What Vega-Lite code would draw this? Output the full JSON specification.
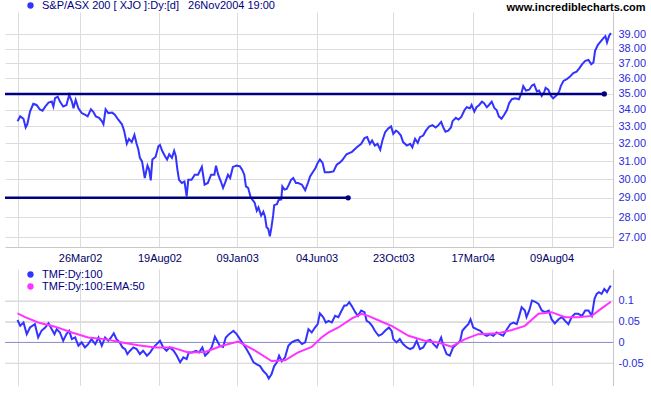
{
"$schema":"https://vega.github.io/schema/vega-lite/v6.json",
"padding":0,
"background":"white",
"spacing":6,
"config":{
 "font":"Liberation Sans",
 "view":{"stroke":null},
 "axis":{"labelFont":"Liberation Sans","labelFontSize":11,"gridColor":"#dcdcdc","gridWidth":1,"domainColor":"#c8c8c8","ticks":false,"title":null,"labelOverlap":false},
 "legend":{"labelFont":"Liberation Sans","labelFontSize":11,"labelColor":"#000080","padding":0,"symbolType":"circle","symbolSize":40,"symbolStrokeWidth":0,"labelOffset":6,"title":null,"labelLimit":0,"rowPadding":0}
},
"resolve":{"scale":{"color":"independent","x":"independent","y":"independent"},"legend":{"color":"independent"}},
"datasets":{
"price":[
{"date":"2001-12-01","close":33.32},{"date":"2001-12-06","close":33.61},{"date":"2001-12-12","close":33.46},{"date":"2001-12-16","close":32.94},{"date":"2001-12-19","close":33.13},{"date":"2001-12-24","close":33.90},{"date":"2001-12-30","close":34.38},{"date":"2002-01-05","close":34.31},{"date":"2002-01-11","close":34.04},{"date":"2002-01-16","close":33.96},{"date":"2002-01-21","close":34.21},{"date":"2002-01-27","close":34.46},{"date":"2002-02-02","close":34.52},{"date":"2002-02-05","close":34.21},{"date":"2002-02-08","close":34.73},{"date":"2002-02-13","close":34.83},{"date":"2002-02-17","close":34.52},{"date":"2002-02-23","close":34.21},{"date":"2002-03-01","close":34.31},{"date":"2002-03-06","close":34.94},{"date":"2002-03-11","close":34.52},{"date":"2002-03-14","close":34.11},{"date":"2002-03-18","close":34.63},{"date":"2002-03-23","close":34.11},{"date":"2002-03-29","close":33.81},{"date":"2002-04-04","close":33.71},{"date":"2002-04-09","close":33.61},{"date":"2002-04-15","close":34.04},{"date":"2002-04-19","close":33.90},{"date":"2002-04-24","close":33.61},{"date":"2002-04-30","close":33.52},{"date":"2002-05-05","close":33.32},{"date":"2002-05-08","close":33.13},{"date":"2002-05-12","close":34.04},{"date":"2002-05-17","close":33.81},{"date":"2002-05-24","close":33.84},{"date":"2002-05-29","close":33.71},{"date":"2002-06-04","close":33.42},{"date":"2002-06-11","close":33.13},{"date":"2002-06-15","close":32.75},{"date":"2002-06-20","close":31.98},{"date":"2002-06-24","close":32.27},{"date":"2002-06-29","close":32.08},{"date":"2002-07-04","close":32.50},{"date":"2002-07-08","close":31.98},{"date":"2002-07-11","close":31.68},{"date":"2002-07-14","close":31.18},{"date":"2002-07-18","close":30.98},{"date":"2002-07-23","close":30.06},{"date":"2002-07-28","close":30.74},{"date":"2002-07-31","close":30.52},{"date":"2002-08-03","close":29.93},{"date":"2002-08-06","close":31.08},{"date":"2002-08-12","close":31.24},{"date":"2002-08-17","close":31.84},{"date":"2002-08-20","close":31.92},{"date":"2002-08-24","close":31.58},{"date":"2002-08-29","close":31.28},{"date":"2002-09-02","close":31.08},{"date":"2002-09-06","close":31.38},{"date":"2002-09-11","close":31.18},{"date":"2002-09-15","close":31.58},{"date":"2002-09-18","close":31.28},{"date":"2002-09-21","close":30.52},{"date":"2002-09-24","close":29.96},{"date":"2002-09-29","close":29.79},{"date":"2002-10-04","close":29.87},{"date":"2002-10-08","close":29.08},{"date":"2002-10-11","close":29.96},{"date":"2002-10-17","close":29.96},{"date":"2002-10-23","close":30.24},{"date":"2002-10-29","close":30.24},{"date":"2002-11-05","close":30.67},{"date":"2002-11-10","close":29.70},{"date":"2002-11-16","close":29.79},{"date":"2002-11-22","close":30.24},{"date":"2002-11-28","close":30.24},{"date":"2002-12-01","close":30.74},{"date":"2002-12-05","close":30.24},{"date":"2002-12-10","close":29.87},{"date":"2002-12-14","close":29.53},{"date":"2002-12-18","close":29.82},{"date":"2002-12-23","close":30.24},{"date":"2002-12-27","close":30.06},{"date":"2003-01-01","close":30.67},{"date":"2003-01-08","close":30.74},{"date":"2003-01-14","close":30.70},{"date":"2003-01-18","close":30.52},{"date":"2003-01-22","close":30.24},{"date":"2003-01-25","close":29.61},{"date":"2003-01-29","close":29.53},{"date":"2003-02-03","close":29.00},{"date":"2003-02-08","close":28.83},{"date":"2003-02-10","close":28.75},{"date":"2003-02-14","close":28.33},{"date":"2003-02-17","close":28.50},{"date":"2003-02-22","close":28.08},{"date":"2003-02-26","close":28.28},{"date":"2003-03-01","close":28.05},{"date":"2003-03-04","close":27.50},{"date":"2003-03-07","close":27.42},{"date":"2003-03-10","close":27.05},{"date":"2003-03-13","close":27.50},{"date":"2003-03-16","close":28.08},{"date":"2003-03-18","close":28.62},{"date":"2003-03-23","close":28.67},{"date":"2003-03-26","close":28.88},{"date":"2003-03-31","close":28.92},{"date":"2003-04-02","close":29.61},{"date":"2003-04-06","close":29.44},{"date":"2003-04-10","close":29.47},{"date":"2003-04-14","close":29.70},{"date":"2003-04-18","close":29.96},{"date":"2003-04-22","close":30.06},{"date":"2003-04-27","close":29.79},{"date":"2003-05-01","close":29.79},{"date":"2003-05-08","close":29.70},{"date":"2003-05-14","close":29.40},{"date":"2003-05-19","close":29.79},{"date":"2003-05-23","close":30.14},{"date":"2003-05-27","close":30.33},{"date":"2003-06-02","close":30.61},{"date":"2003-06-06","close":30.89},{"date":"2003-06-10","close":31.08},{"date":"2003-06-15","close":30.89},{"date":"2003-06-19","close":30.37},{"date":"2003-06-27","close":30.37},{"date":"2003-07-05","close":30.42},{"date":"2003-07-11","close":30.79},{"date":"2003-07-17","close":30.92},{"date":"2003-07-21","close":31.04},{"date":"2003-07-29","close":31.38},{"date":"2003-08-08","close":31.52},{"date":"2003-08-17","close":31.78},{"date":"2003-08-25","close":31.98},{"date":"2003-08-31","close":32.31},{"date":"2003-09-05","close":32.37},{"date":"2003-09-10","close":31.98},{"date":"2003-09-14","close":32.17},{"date":"2003-09-19","close":31.88},{"date":"2003-09-24","close":31.98},{"date":"2003-09-29","close":31.64},{"date":"2003-10-03","close":32.17},{"date":"2003-10-08","close":32.66},{"date":"2003-10-14","close":32.89},{"date":"2003-10-19","close":33.00},{"date":"2003-10-23","close":32.56},{"date":"2003-10-28","close":32.75},{"date":"2003-11-01","close":32.66},{"date":"2003-11-06","close":32.46},{"date":"2003-11-10","close":32.08},{"date":"2003-11-17","close":31.88},{"date":"2003-11-23","close":31.98},{"date":"2003-11-27","close":31.78},{"date":"2003-12-02","close":32.27},{"date":"2003-12-07","close":32.04},{"date":"2003-12-11","close":32.37},{"date":"2003-12-17","close":32.46},{"date":"2003-12-22","close":32.75},{"date":"2003-12-28","close":33.00},{"date":"2004-01-03","close":33.08},{"date":"2004-01-09","close":32.94},{"date":"2004-01-14","close":33.08},{"date":"2004-01-19","close":33.27},{"date":"2004-01-23","close":32.94},{"date":"2004-01-27","close":32.69},{"date":"2004-02-01","close":32.75},{"date":"2004-02-06","close":32.94},{"date":"2004-02-09","close":33.32},{"date":"2004-02-15","close":33.52},{"date":"2004-02-20","close":33.42},{"date":"2004-02-25","close":33.58},{"date":"2004-03-02","close":34.00},{"date":"2004-03-06","close":34.17},{"date":"2004-03-12","close":34.11},{"date":"2004-03-15","close":34.31},{"date":"2004-03-20","close":33.90},{"date":"2004-03-24","close":34.17},{"date":"2004-03-29","close":34.31},{"date":"2004-04-03","close":34.52},{"date":"2004-04-07","close":34.42},{"date":"2004-04-12","close":34.17},{"date":"2004-04-16","close":34.31},{"date":"2004-04-21","close":34.52},{"date":"2004-04-26","close":34.11},{"date":"2004-04-30","close":34.00},{"date":"2004-05-04","close":33.61},{"date":"2004-05-09","close":33.46},{"date":"2004-05-14","close":33.71},{"date":"2004-05-19","close":34.00},{"date":"2004-05-23","close":34.42},{"date":"2004-05-28","close":34.67},{"date":"2004-06-03","close":34.73},{"date":"2004-06-10","close":34.67},{"date":"2004-06-15","close":35.09},{"date":"2004-06-18","close":35.50},{"date":"2004-06-23","close":35.22},{"date":"2004-06-29","close":35.27},{"date":"2004-07-04","close":35.54},{"date":"2004-07-08","close":35.61},{"date":"2004-07-13","close":35.16},{"date":"2004-07-17","close":35.22},{"date":"2004-07-22","close":34.88},{"date":"2004-07-27","close":35.16},{"date":"2004-07-29","close":35.39},{"date":"2004-08-03","close":35.27},{"date":"2004-08-08","close":34.88},{"date":"2004-08-12","close":34.73},{"date":"2004-08-19","close":34.94},{"date":"2004-08-23","close":35.16},{"date":"2004-08-26","close":35.50},{"date":"2004-08-31","close":35.84},{"date":"2004-09-06","close":35.95},{"date":"2004-09-12","close":36.13},{"date":"2004-09-18","close":36.35},{"date":"2004-09-24","close":36.44},{"date":"2004-09-29","close":36.66},{"date":"2004-10-04","close":36.93},{"date":"2004-10-10","close":37.16},{"date":"2004-10-16","close":37.22},{"date":"2004-10-21","close":36.93},{"date":"2004-10-25","close":37.05},{"date":"2004-10-28","close":37.84},{"date":"2004-11-02","close":38.24},{"date":"2004-11-06","close":38.43},{"date":"2004-11-12","close":38.71},{"date":"2004-11-16","close":38.86},{"date":"2004-11-19","close":38.43},{"date":"2004-11-23","close":38.90},{"date":"2004-11-26","close":39.09}
],
"levels":[
{"line":"resistance","date":"2001-11-08","level":35},{"line":"resistance","date":"2004-11-14","level":35},
{"line":"support","date":"2001-11-08","level":29},{"line":"support","date":"2003-08-01","level":29}
],
"levelEnds":[
{"line":"resistance","date":"2004-11-14","level":35},{"line":"support","date":"2003-08-01","level":29}
],
"zero":[{"value":0}],
"tmfGrid":[{"value":-0.05},{"value":0.05},{"value":0.1}],
"tmf":[
{"date":"2001-12-01","value":0.054},{"date":"2001-12-06","value":0.040},{"date":"2001-12-12","value":0.048},{"date":"2001-12-18","value":0.020},{"date":"2001-12-24","value":0.036},{"date":"2002-01-02","value":0.044},{"date":"2002-01-08","value":0.012},{"date":"2002-01-14","value":0.028},{"date":"2002-01-21","value":0.036},{"date":"2002-01-27","value":0.046},{"date":"2002-02-02","value":0.032},{"date":"2002-02-07","value":0.020},{"date":"2002-02-11","value":0.032},{"date":"2002-02-17","value":0.024},{"date":"2002-02-23","value":0.004},{"date":"2002-03-01","value":0.020},{"date":"2002-03-06","value":0.028},{"date":"2002-03-11","value":0.008},{"date":"2002-03-17","value":0.012},{"date":"2002-03-23","value":-0.008},{"date":"2002-03-29","value":0.000},{"date":"2002-04-04","value":-0.012},{"date":"2002-04-10","value":-0.004},{"date":"2002-04-16","value":0.008},{"date":"2002-04-23","value":-0.004},{"date":"2002-04-29","value":0.012},{"date":"2002-05-05","value":-0.008},{"date":"2002-05-11","value":0.012},{"date":"2002-05-17","value":0.004},{"date":"2002-05-22","value":0.012},{"date":"2002-05-27","value":0.022},{"date":"2002-06-01","value":0.008},{"date":"2002-06-07","value":0.000},{"date":"2002-06-12","value":-0.012},{"date":"2002-06-17","value":-0.016},{"date":"2002-06-21","value":-0.028},{"date":"2002-06-26","value":-0.020},{"date":"2002-07-02","value":-0.012},{"date":"2002-07-08","value":-0.016},{"date":"2002-07-14","value":-0.028},{"date":"2002-07-20","value":-0.020},{"date":"2002-07-27","value":-0.032},{"date":"2002-08-02","value":-0.024},{"date":"2002-08-08","value":-0.012},{"date":"2002-08-14","value":-0.004},{"date":"2002-08-20","value":0.004},{"date":"2002-08-26","value":-0.012},{"date":"2002-09-01","value":-0.020},{"date":"2002-09-07","value":-0.012},{"date":"2002-09-14","value":-0.020},{"date":"2002-09-20","value":-0.032},{"date":"2002-09-26","value":-0.048},{"date":"2002-10-02","value":-0.036},{"date":"2002-10-08","value":-0.040},{"date":"2002-10-12","value":-0.024},{"date":"2002-10-18","value":-0.024},{"date":"2002-10-25","value":-0.020},{"date":"2002-10-31","value":-0.024},{"date":"2002-11-06","value":-0.012},{"date":"2002-11-11","value":-0.032},{"date":"2002-11-17","value":-0.024},{"date":"2002-11-23","value":-0.012},{"date":"2002-11-29","value":0.014},{"date":"2002-12-03","value":0.004},{"date":"2002-12-08","value":-0.008},{"date":"2002-12-14","value":-0.011},{"date":"2002-12-19","value":0.012},{"date":"2002-12-25","value":0.020},{"date":"2003-01-02","value":0.028},{"date":"2003-01-08","value":0.020},{"date":"2003-01-14","value":0.008},{"date":"2003-01-20","value":-0.004},{"date":"2003-01-26","value":-0.016},{"date":"2003-02-02","value":-0.032},{"date":"2003-02-08","value":-0.048},{"date":"2003-02-14","value":-0.053},{"date":"2003-02-20","value":-0.057},{"date":"2003-02-26","value":-0.069},{"date":"2003-03-04","value":-0.077},{"date":"2003-03-08","value":-0.087},{"date":"2003-03-13","value":-0.077},{"date":"2003-03-18","value":-0.057},{"date":"2003-03-23","value":-0.048},{"date":"2003-03-27","value":-0.032},{"date":"2003-04-01","value":-0.045},{"date":"2003-04-07","value":-0.036},{"date":"2003-04-13","value":-0.008},{"date":"2003-04-19","value":0.000},{"date":"2003-04-25","value":0.004},{"date":"2003-05-01","value":0.006},{"date":"2003-05-08","value":-0.004},{"date":"2003-05-14","value":0.000},{"date":"2003-05-20","value":0.032},{"date":"2003-05-26","value":0.024},{"date":"2003-06-01","value":0.036},{"date":"2003-06-06","value":0.044},{"date":"2003-06-10","value":0.070},{"date":"2003-06-16","value":0.061},{"date":"2003-06-21","value":0.048},{"date":"2003-06-26","value":0.052},{"date":"2003-07-02","value":0.048},{"date":"2003-07-08","value":0.064},{"date":"2003-07-14","value":0.061},{"date":"2003-07-20","value":0.077},{"date":"2003-07-25","value":0.089},{"date":"2003-07-29","value":0.089},{"date":"2003-08-03","value":0.097},{"date":"2003-08-08","value":0.087},{"date":"2003-08-14","value":0.073},{"date":"2003-08-19","value":0.064},{"date":"2003-08-25","value":0.077},{"date":"2003-08-31","value":0.073},{"date":"2003-09-04","value":0.052},{"date":"2003-09-09","value":0.048},{"date":"2003-09-14","value":0.040},{"date":"2003-09-19","value":0.028},{"date":"2003-09-26","value":0.016},{"date":"2003-10-02","value":0.020},{"date":"2003-10-08","value":0.028},{"date":"2003-10-15","value":0.036},{"date":"2003-10-20","value":0.028},{"date":"2003-10-23","value":0.008},{"date":"2003-10-29","value":0.000},{"date":"2003-11-04","value":0.008},{"date":"2003-11-10","value":-0.004},{"date":"2003-11-17","value":-0.012},{"date":"2003-11-23","value":-0.016},{"date":"2003-11-29","value":-0.012},{"date":"2003-12-05","value":0.004},{"date":"2003-12-11","value":-0.016},{"date":"2003-12-17","value":-0.012},{"date":"2003-12-24","value":0.004},{"date":"2003-12-30","value":0.006},{"date":"2004-01-05","value":-0.004},{"date":"2004-01-11","value":-0.012},{"date":"2004-01-19","value":0.012},{"date":"2004-01-23","value":-0.008},{"date":"2004-01-29","value":-0.028},{"date":"2004-02-04","value":-0.032},{"date":"2004-02-10","value":-0.012},{"date":"2004-02-17","value":-0.004},{"date":"2004-02-23","value":0.004},{"date":"2004-02-27","value":0.028},{"date":"2004-03-03","value":0.036},{"date":"2004-03-09","value":0.044},{"date":"2004-03-13","value":0.056},{"date":"2004-03-18","value":0.036},{"date":"2004-03-24","value":0.032},{"date":"2004-03-31","value":0.028},{"date":"2004-04-06","value":0.020},{"date":"2004-04-12","value":0.016},{"date":"2004-04-18","value":0.020},{"date":"2004-04-24","value":0.016},{"date":"2004-04-30","value":0.024},{"date":"2004-05-06","value":0.020},{"date":"2004-05-12","value":0.016},{"date":"2004-05-19","value":0.032},{"date":"2004-05-25","value":0.044},{"date":"2004-05-31","value":0.048},{"date":"2004-06-06","value":0.044},{"date":"2004-06-10","value":0.061},{"date":"2004-06-15","value":0.085},{"date":"2004-06-21","value":0.077},{"date":"2004-06-24","value":0.061},{"date":"2004-06-29","value":0.077},{"date":"2004-07-04","value":0.101},{"date":"2004-07-10","value":0.098},{"date":"2004-07-16","value":0.093},{"date":"2004-07-22","value":0.077},{"date":"2004-07-28","value":0.073},{"date":"2004-08-04","value":0.077},{"date":"2004-08-09","value":0.056},{"date":"2004-08-15","value":0.046},{"date":"2004-08-22","value":0.056},{"date":"2004-08-28","value":0.061},{"date":"2004-09-03","value":0.052},{"date":"2004-09-09","value":0.044},{"date":"2004-09-15","value":0.061},{"date":"2004-09-21","value":0.069},{"date":"2004-09-27","value":0.069},{"date":"2004-10-04","value":0.064},{"date":"2004-10-10","value":0.077},{"date":"2004-10-16","value":0.077},{"date":"2004-10-22","value":0.064},{"date":"2004-10-27","value":0.105},{"date":"2004-10-31","value":0.117},{"date":"2004-11-04","value":0.121},{"date":"2004-11-09","value":0.117},{"date":"2004-11-14","value":0.129},{"date":"2004-11-19","value":0.121},{"date":"2004-11-23","value":0.131},{"date":"2004-11-26","value":0.137}
],
"ema":[
{"date":"2001-12-01","value":0.070},{"date":"2001-12-15","value":0.061},{"date":"2002-01-08","value":0.048},{"date":"2002-02-08","value":0.038},{"date":"2002-03-11","value":0.024},{"date":"2002-04-10","value":0.012},{"date":"2002-05-11","value":0.008},{"date":"2002-06-11","value":0.000},{"date":"2002-07-11","value":-0.007},{"date":"2002-08-11","value":-0.012},{"date":"2002-09-11","value":-0.012},{"date":"2002-10-11","value":-0.024},{"date":"2002-11-11","value":-0.023},{"date":"2002-12-12","value":-0.008},{"date":"2003-01-11","value":0.002},{"date":"2003-02-11","value":-0.020},{"date":"2003-03-13","value":-0.045},{"date":"2003-04-07","value":-0.043},{"date":"2003-05-01","value":-0.024},{"date":"2003-05-26","value":-0.011},{"date":"2003-06-13","value":0.012},{"date":"2003-06-26","value":0.024},{"date":"2003-07-14","value":0.036},{"date":"2003-08-08","value":0.058},{"date":"2003-08-26","value":0.069},{"date":"2003-09-07","value":0.064},{"date":"2003-10-05","value":0.048},{"date":"2003-10-20","value":0.040},{"date":"2003-11-20","value":0.016},{"date":"2003-12-20","value":0.004},{"date":"2004-01-14","value":0.000},{"date":"2004-02-07","value":-0.010},{"date":"2004-03-03","value":0.008},{"date":"2004-03-27","value":0.020},{"date":"2004-05-03","value":0.022},{"date":"2004-05-28","value":0.030},{"date":"2004-06-21","value":0.040},{"date":"2004-07-16","value":0.069},{"date":"2004-08-09","value":0.073},{"date":"2004-09-03","value":0.061},{"date":"2004-09-27","value":0.061},{"date":"2004-10-22","value":0.064},{"date":"2004-11-09","value":0.082},{"date":"2004-11-26","value":0.098}
]
},
"vconcat":[
{
 "width":608,"height":235,
 "title":{"text":"www.incrediblecharts.com","anchor":"end","frame":"bounds","fontSize":11,"fontWeight":"bold","color":"#000000","font":"Liberation Sans","offset":-13},
 "layer":[
  {"data":{"name":"price"},"mark":{"type":"line","strokeWidth":2},
   "encoding":{
    "x":{"field":"date","type":"temporal","scale":{"type":"utc","domain":[{"year":2001,"month":11,"date":8,"utc":true},{"year":2004,"month":11,"date":30,"utc":true}]},
     "axis":{"orient":"bottom","grid":true,"labelColor":"#000066","labelPadding":5,
      "values":[{"year":2001,"month":12,"date":1,"utc":true},{"year":2002,"month":3,"date":26,"utc":true},{"year":2002,"month":8,"date":19,"utc":true},{"year":2003,"month":1,"date":9,"utc":true},{"year":2003,"month":6,"date":4,"utc":true},{"year":2003,"month":10,"date":23,"utc":true},{"year":2004,"month":3,"date":17,"utc":true},{"year":2004,"month":8,"date":9,"utc":true}],
      "labelExpr":"datum.value < 1009843200000 ? '' : utcFormat(datum.value, '%d%b%y')"}},
    "y":{"field":"close","type":"quantitative","scale":{"type":"log","domain":[26.53,40.6],"nice":false,"zero":false},
     "axis":{"orient":"right","grid":true,"values":[27,28,29,30,31,32,33,34,35,36,37,38,39],"format":".2f","labelColor":"#2b2bd9","labelPadding":5}},
    "color":{"datum":"S&P/ASX 200 [ XJO ]:Dy:[d]\u00a0\u00a0 26Nov2004 19:00","scale":{"range":["#3333ff"]},
     "legend":{"orient":"none","legendX":20,"legendY":-12,
      "encode":{"symbols":{"update":{"fill":{"value":"#3333ff"},"stroke":{"value":"transparent"},"opacity":{"value":1}}}}}}
   }},
  {"data":{"name":"levels"},"mark":{"type":"line","color":"#000080","strokeWidth":2.5},
   "encoding":{"x":{"field":"date","type":"temporal"},"y":{"field":"level","type":"quantitative"},"detail":{"field":"line"}}},
  {"data":{"name":"levelEnds"},"mark":{"type":"point","filled":true,"color":"#000080","size":28,"opacity":1},
   "encoding":{"x":{"field":"date","type":"temporal"},"y":{"field":"level","type":"quantitative"}}}
 ]
},
{
 "width":608,"height":117,
 "encoding":{
  "y":{"field":"value","type":"quantitative","scale":{"domain":[-0.105,0.177],"nice":false,"zero":false},
   "axis":{"orient":"right","grid":true,"gridColor":"#dcdcdc","values":[-0.05,0,0.05,0.1],"labelColor":"#2b2bd9","labelPadding":5,"labelOverlap":false,"labelBound":false,
    "labelExpr":"datum.value < 0 ? '-' + format(-datum.value, '.2~f') : format(datum.value, '.2~f')"}}
 },
 "layer":[
  {"data":{"name":"tmfGrid"},"mark":{"type":"rule","color":"#dcdcdc","strokeWidth":1}},
  {"data":{"name":"zero"},"mark":{"type":"rule","color":"#8c8cd0","strokeWidth":1}},
  {"data":{"name":"tmf"},"mark":{"type":"line","strokeWidth":2},
   "encoding":{
    "x":{"field":"date","type":"temporal","scale":{"type":"utc","domain":[{"year":2001,"month":11,"date":8,"utc":true},{"year":2004,"month":11,"date":30,"utc":true}]},
     "axis":{"orient":"bottom","grid":true,"labels":false,
      "values":[{"year":2001,"month":12,"date":1,"utc":true},{"year":2002,"month":3,"date":26,"utc":true},{"year":2002,"month":8,"date":19,"utc":true},{"year":2003,"month":1,"date":9,"utc":true},{"year":2003,"month":6,"date":4,"utc":true},{"year":2003,"month":10,"date":23,"utc":true},{"year":2004,"month":3,"date":17,"utc":true},{"year":2004,"month":8,"date":9,"utc":true}]}},
    "color":{"datum":"TMF:Dy:100","scale":{"domain":["TMF:Dy:100","TMF:Dy:100:EMA:50"],"range":["#3333ff","#ff33ff"]},
     "legend":{"orient":"none","legendX":20,"legendY":0,
      "encode":{"symbols":{"update":{"fill":{"signal":"datum.value === 'TMF:Dy:100' ? '#3333ff' : '#ff33ff'"},"stroke":{"value":"transparent"},"opacity":{"value":1}}}}}}
   }},
  {"data":{"name":"ema"},"mark":{"type":"line","strokeWidth":2},
   "encoding":{"x":{"field":"date","type":"temporal"},"color":{"datum":"TMF:Dy:100:EMA:50"}}}
 ]
}
]
}
